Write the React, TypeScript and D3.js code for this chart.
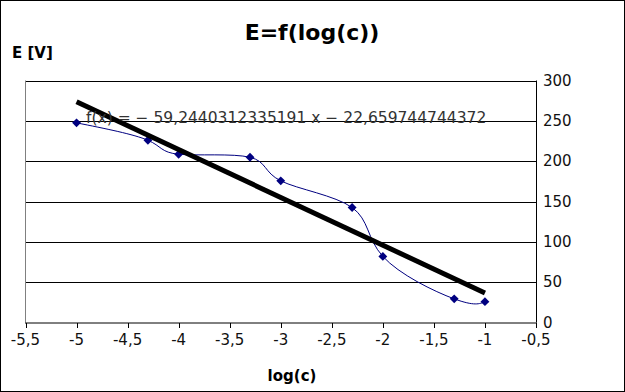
import React from "react";
import * as d3 from "d3";

const logC = [-5, -4.301, -4, -3.301, -3, -2.301, -2, -1.301, -1];
const voltage = [247.5, 225.9, 208.6, 204.8, 175.6, 142.5, 81.9, 29.3, 25.8];
const xTicks = [-5.5, -5, -4.5, -4, -3.5, -3, -2.5, -2, -1.5, -1, -0.5];
const yTicks = [0, 50, 100, 150, 200, 250, 300];
const trendSlope = -59.2440312335191;
const trendIntercept = -22.659744744372;
const trendLabel = "f(x) = − 59,2440312335191 x − 22,659744744372";
const title = "E=f(log(c))";
const yTitle = "E [V]";
const xTitle = "log(c)";

const W = 625;
const H = 392;
const font = "'DejaVu Sans', sans-serif";

export default function App() {
  const x = d3.scaleLinear().domain([-5.5, -0.5]).range([25.5, 536]);
  const y = d3.scaleLinear().domain([0, 300]).range([322.5, 80.5]);
  const fmt = (v: number) => String(v).replace(".", ",");

  const line = d3
    .line<number>()
    .x((_, i) => x(logC[i]))
    .y((d) => y(d))
    .curve(d3.curveNatural);

  const xr = d3.extent(logC) as [number, number];
  const trend = d3.line<number>().x((v) => x(v)).y((v) => y(trendSlope * v + trendIntercept));

  const diamond = d3.symbol().type(d3.symbolDiamond2).size(50)();

  return (
    <svg
      width={W}
      height={H}
      style={{ position: "absolute", left: 0, top: 0, background: "#fff" }}
      fontFamily={font}
    >
      <rect x={0.5} y={0.5} width={W - 1} height={H - 1} fill="#fff" stroke="#000" />
      <text x={312} y={40} textAnchor="middle" fontWeight="bold" fontSize={22}>
        {title}
      </text>
      <text x={12} y={58} fontWeight="bold" fontSize={15}>
        {yTitle}
      </text>
      <text x={292} y={381} textAnchor="middle" fontWeight="bold" fontSize={15}>
        {xTitle}
      </text>
      {yTicks.map((t) => (
        <g key={t}>
          {t > 0 && (
            <line x1={x(-5.5)} x2={x(-0.5)} y1={Math.round(y(t)) + 0.5} y2={Math.round(y(t)) + 0.5} stroke="#000" />
          )}
          <text x={543} y={y(t) + 5} fontSize={15} fill="#111">
            {t}
          </text>
        </g>
      ))}
      <line x1={25.5} x2={25.5} y1={y(300)} y2={y(0)} stroke="#808080" />
      <line x1={536.5} x2={536.5} y1={y(300)} y2={y(0)} stroke="#000" />
      <line x1={25} x2={537} y1={323} y2={323} stroke="#000" />
      {xTicks.map((t) => (
        <g key={t}>
          <line x1={Math.round(x(t)) + 0.5} x2={Math.round(x(t)) + 0.5} y1={323} y2={328} stroke="#000" />
          <text x={x(t)} y={345} textAnchor="middle" fontSize={15} fill="#111">
            {fmt(t)}
          </text>
        </g>
      ))}
      <path d={line(voltage) || ""} fill="none" stroke="#000080" strokeWidth={1} />
      {voltage.map((v, i) => (
        <path key={i} d={diamond || ""} transform={`translate(${x(logC[i])},${y(v)})`} fill="#000080" />
      ))}
      <path d={trend(xr) || ""} fill="none" stroke="#000" strokeWidth={5} />
      <text x={86} y={123} fontSize={15.5} fill="#333">
        {trendLabel}
      </text>
    </svg>
  );
}
